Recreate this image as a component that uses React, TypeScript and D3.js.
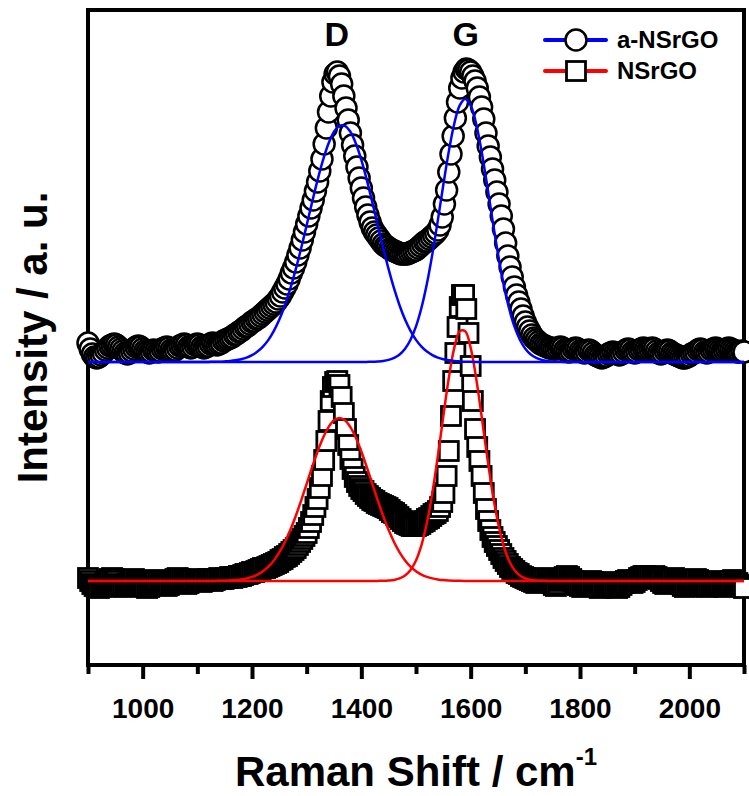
import React, { useRef, useEffect } from 'react';
import * as d3 from 'd3';

const width = 749;
const height = 796;
const margin = { top: 10, right: 5, bottom: 131, left: 88 };
const font = "'Liberation Sans', Arial, sans-serif";

// measured spectra, one value every 4 cm-1 starting at 900 cm-1
const ramanStart = 900;
const ramanStep = 4;

// a-NSrGO intensity (a.u.), above its own baseline
const aNSrGO = [
  19, 13, 8, 5, 4, 5, 7, 9, 12, 14, 16, 17, 18, 17, 15, 13, 11, 9, 8, 9, 11, 13, 15, 16, 15,
  13, 11, 10, 9, 10, 12, 11, 10, 11, 13, 14, 15, 14, 12, 11, 12, 14, 16, 17, 18, 17, 15, 14, 15, 17,
  18, 17, 15, 14, 15, 16, 18, 19, 18, 17, 18, 19, 21, 22, 23, 24, 25, 27, 28, 30, 31, 33, 35, 36, 38,
  40, 41, 43, 44, 46, 48, 50, 52, 54, 56, 58, 60, 63, 66, 70, 74, 78, 83, 89, 94, 100, 107, 114, 122, 130,
  138, 146, 154, 162, 171, 180, 191, 203, 218, 234, 250, 266, 280, 288, 290, 286, 278, 266, 254, 242, 229, 217, 206, 195, 184,
  174, 164, 155, 147, 140, 134, 130, 127, 124, 121, 118, 116, 115, 113, 112, 111, 110, 109, 108, 108, 108, 108, 109, 110, 111,
  112, 114, 116, 118, 120, 121, 123, 125, 127, 129, 132, 137, 145, 158, 172, 190, 208, 226, 244, 260, 274, 284, 290, 293, 292,
  290, 286, 281, 274, 265, 255, 243, 229, 216, 205, 193, 182, 170, 158, 146, 133, 119, 106, 95, 85, 75, 67, 60, 53, 46,
  40, 35, 31, 27, 24, 22, 20, 18, 17, 16, 15, 14, 14, 13, 13, 14, 15, 14, 12, 11, 10, 11, 13, 14, 13,
  11, 10, 9, 10, 12, 11, 9, 7, 6, 5, 4, 5, 6, 8, 9, 10, 9, 8, 7, 8, 10, 12, 13, 12, 10,
  9, 10, 12, 13, 14, 13, 12, 13, 14, 13, 11, 9, 8, 9, 11, 12, 11, 9, 8, 7, 6, 5, 4, 4, 5,
  6, 8, 9, 10, 12, 13, 12, 10, 9, 10, 12, 13, 14, 13, 12, 11, 12, 13, 14, 13, 12, 11, 10, 10, 11, 10,
];

// NSrGO intensity (a.u.)
const NSrGO = [
  3, 0, -3, -5, -6, -7, -6, -4, -2, 0, 2, 3, 2, 0, -3, -5, -6, -5, -3, -1, 1, 2, 1, -1, -3,
  -5, -6, -7, -6, -4, -2, 0, 1, 0, -2, -4, -5, -4, -2, 0, 2, 3, 2, 0, -2, -3, -2, 0, 1, 2,
  1, 0, -1, 0, 1, 2, 1, 0, 1, 2, 3, 2, 2, 3, 3, 4, 3, 4, 4, 5, 5, 6, 7, 7, 8,
  9, 9, 10, 11, 12, 13, 13, 14, 15, 16, 17, 18, 19, 21, 22, 24, 25, 27, 29, 31, 33, 36, 39, 42, 45,
  48, 53, 59, 66, 74, 82, 93, 105, 121, 140, 160, 180, 194, 199, 200, 196, 184, 168, 152, 136, 122, 112, 104, 99, 95,
  92, 90, 87, 85, 83, 81, 80, 78, 77, 76, 75, 74, 73, 71, 69, 68, 66, 64, 62, 60, 58, 57, 56, 55, 55,
  55, 56, 57, 59, 60, 62, 63, 65, 67, 68, 70, 74, 79, 88, 105, 130, 165, 200, 228, 254, 274, 286, 286, 272, 248,
  215, 180, 152, 134, 120, 105, 88, 72, 60, 51, 44, 39, 35, 31, 27, 23, 20, 17, 14, 12, 10, 8, 7, 5, 4,
  3, 2, 1, 0, -1, -2, -1, 0, 2, 3, 2, 0, -2, -4, -5, -3, 0, 2, 4, 5, 4, 2, 0, -2, -4,
  -5, -6, -5, -3, -1, 0, -1, -3, -5, -7, -6, -4, -2, -1, -2, -4, -6, -7, -6, -4, -2, 0, 1, 0, -2,
  -1, 1, 3, 4, 5, 5, 4, 3, 4, 5, 4, 2, 0, -2, -3, -2, 0, 2, 3, 1, -1, -3, -5, -6, -5,
  -3, -1, 1, 2, 1, -1, -3, -5, -6, -5, -3, -1, 0, -1, -3, -5, -6, -4, -2, 0, 1, 0, -2, -4, -5, -7,
];

// vertical offset of the a-NSrGO trace
const aOffset = 219;

// fitted D and G bands: 900, 1100..1800 every 10, 2100 cm-1
const fitShift = [900, ...d3.range(1100, 1801, 10), 2100];
const aFitD = [0,
  0, 0, 0.1, 0.2, 0.3, 0.6, 1.0, 1.7, 2.8, 4.4,
  6.9, 10.4, 15.4, 22.1, 31.1, 42.4, 56.5, 73.3, 92.6, 114.0,
  136.8, 159.9, 182.1, 202.1, 218.5, 230.2, 236.2, 236.2, 230.2, 218.5,
  202.1, 182.1, 159.9, 136.8, 114.0, 92.6, 73.3, 56.5, 42.4, 31.1,
  22.1, 15.4, 10.4, 6.9, 4.4, 2.8, 1.7, 1.0, 0.6, 0.3,
  0.2, 0.1, 0, 0, 0, 0, 0, 0, 0, 0,
  0, 0, 0, 0, 0, 0, 0, 0, 0, 0,
  0, 0];
const aFitG = [0,
  0, 0, 0, 0, 0, 0, 0, 0, 0, 0,
  0, 0, 0, 0, 0, 0, 0, 0, 0, 0,
  0, 0, 0, 0, 0, 0, 0, 0, 0, 0,
  0, 0.1, 0.2, 0.5, 1.0, 2.1, 4.1, 7.5, 13.3, 22.3,
  35.6, 54.2, 78.4, 108.1, 141.9, 177.2, 210.6, 238.3, 256.6, 263,
  256.6, 238.3, 210.6, 177.2, 141.9, 108.1, 78.4, 54.2, 35.6, 22.3,
  13.3, 7.5, 4.1, 2.1, 1.0, 0.5, 0.2, 0.1, 0, 0,
  0, 0];
const nFitD = [0,
  0, 0, 0, 0.1, 0.2, 0.3, 0.5, 0.9, 1.6, 2.6,
  4.1, 6.4, 9.8, 14.4, 20.6, 28.7, 38.8, 50.9, 65.0, 80.6,
  97.2, 113.8, 129.5, 143.2, 153.9, 160.7, 163, 160.7, 153.9, 143.2,
  129.5, 113.8, 97.2, 80.6, 65.0, 50.9, 38.8, 28.7, 20.6, 14.4,
  9.8, 6.4, 4.1, 2.6, 1.6, 0.9, 0.5, 0.3, 0.2, 0.1,
  0, 0, 0, 0, 0, 0, 0, 0, 0, 0,
  0, 0, 0, 0, 0, 0, 0, 0, 0, 0,
  0, 0];
const nFitG = [0,
  0, 0, 0, 0, 0, 0, 0, 0, 0, 0,
  0, 0, 0, 0, 0, 0, 0, 0, 0, 0,
  0, 0, 0, 0, 0, 0, 0, 0, 0, 0,
  0, 0, 0, 0.1, 0.2, 0.5, 1.1, 2.6, 5.5, 11.1,
  20.6, 35.9, 58.4, 88.4, 125.0, 164.9, 203.0, 233.1, 249.8, 249.8,
  233.1, 203.0, 164.9, 125.0, 88.4, 58.4, 35.9, 20.6, 11.1, 5.5,
  2.6, 1.1, 0.5, 0.2, 0.1, 0, 0, 0, 0, 0,
  0, 0];

const xTicks = [1000, 1200, 1400, 1600, 1800, 2000];
const xMinorTicks = [900, 1100, 1300, 1500, 1700, 1900, 2100];
const bandLabels = [
  { text: 'D', shift: 1355 },
  { text: 'G', shift: 1591 },
];
const legendItems = [
  { label: 'a-NSrGO', color: '#0000ff', marker: 'circle' },
  { label: 'NSrGO', color: '#ff0000', marker: 'square' },
];

function App() {
  const chartRef = useRef<SVGSVGElement>(null);

  useEffect(() => {
    const svg = d3.select(chartRef.current);
    svg.selectAll('*').remove();

    const x = d3.scaleLinear().domain([900, 2100]).range([margin.left, width - margin.right]);
    const y = d3.scaleLinear().domain([-84, 571]).range([height - margin.bottom, margin.top]);
    const shiftAt = (i: number) => ramanStart + i * ramanStep;
    const bottom = height - margin.bottom;

    // frame
    svg.append('rect')
      .attr('x', margin.left)
      .attr('y', margin.top)
      .attr('width', width - margin.right - margin.left)
      .attr('height', bottom - margin.top)
      .attr('fill', 'none')
      .attr('stroke', '#000')
      .attr('stroke-width', 4);

    // x axis ticks
    const major = svg.append('g')
      .attr('transform', `translate(0, ${bottom})`)
      .call(d3.axisBottom(x).tickValues(xTicks).tickSize(14).tickSizeOuter(0).tickPadding(19).tickFormat(d3.format('d')));
    major.select('.domain').remove();
    major.selectAll('line').attr('stroke', '#000').attr('stroke-width', 4);
    major.selectAll('text')
      .attr('fill', '#000')
      .style('font-family', font)
      .style('font-weight', 'bold')
      .style('font-size', '28px');

    const minor = svg.append('g')
      .attr('transform', `translate(0, ${bottom})`)
      .call(d3.axisBottom(x).tickValues(xMinorTicks).tickSize(9).tickSizeOuter(0).tickFormat(() => ''));
    minor.select('.domain').remove();
    minor.selectAll('line').attr('stroke', '#000').attr('stroke-width', 4);

    // axis titles
    const xTitle = svg.append('text')
      .attr('x', (margin.left + width - margin.right) / 2)
      .attr('y', 786)
      .attr('text-anchor', 'middle')
      .style('font-family', font)
      .style('font-weight', 'bold')
      .style('font-size', '42px');
    xTitle.append('tspan').text('Raman Shift / cm');
    xTitle.append('tspan').attr('dy', -21).style('font-size', '24px').text('-1');

    svg.append('text')
      .attr('transform', `translate(47, ${(margin.top + bottom) / 2}) rotate(-90)`)
      .attr('text-anchor', 'middle')
      .style('font-family', font)
      .style('font-weight', 'bold')
      .style('font-size', '42px')
      .text('Intensity / a. u.');

    // NSrGO squares
    svg.append('g')
      .selectAll('rect')
      .data(NSrGO)
      .join('rect')
      .attr('x', (d, i) => x(shiftAt(i)) - 9.5)
      .attr('y', (d) => y(d) - 9.5)
      .attr('width', 19)
      .attr('height', 19)
      .attr('fill', '#fff')
      .attr('stroke', '#000')
      .attr('stroke-width', 2.8);

    // a-NSrGO circles
    svg.append('g')
      .selectAll('circle')
      .data(aNSrGO)
      .join('circle')
      .attr('cx', (d, i) => x(shiftAt(i)))
      .attr('cy', (d) => y(d + aOffset))
      .attr('r', 10.5)
      .attr('fill', '#fff')
      .attr('stroke', '#000')
      .attr('stroke-width', 2.5);

    // fitted bands
    const fitLine = (offset: number) => d3.line<number>()
      .x((d, i) => x(fitShift[i]))
      .y((d) => y(d + offset))
      .curve(d3.curveCatmullRom);

    [nFitD, nFitG].forEach((fit) => {
      svg.append('path')
        .datum(fit)
        .attr('d', fitLine(0))
        .attr('fill', 'none')
        .attr('stroke', '#ff0000')
        .attr('stroke-width', 2.5);
    });
    [aFitD, aFitG].forEach((fit) => {
      svg.append('path')
        .datum(fit)
        .attr('d', fitLine(aOffset))
        .attr('fill', 'none')
        .attr('stroke', '#0000ff')
        .attr('stroke-width', 2.5);
    });

    // band labels
    bandLabels.forEach((b) => {
      svg.append('text')
        .attr('x', x(b.shift))
        .attr('y', margin.top + 36)
        .attr('text-anchor', 'middle')
        .style('font-family', font)
        .style('font-weight', 'bold')
        .style('font-size', '34px')
        .text(b.text);
    });

    // legend
    const legend = svg.append('g').attr('transform', 'translate(545, 40)');
    legendItems.forEach((item, i) => {
      const row = legend.append('g').attr('transform', `translate(0, ${i * 31})`);
      row.append('line')
        .attr('x1', 0).attr('x2', 61)
        .attr('stroke', item.color)
        .attr('stroke-width', 4)
        .attr('stroke-linecap', 'round');
      if (item.marker === 'circle') {
        row.append('circle')
          .attr('cx', 31).attr('r', 10.5)
          .attr('fill', '#fff').attr('stroke', '#000').attr('stroke-width', 2.5);
      } else {
        row.append('rect')
          .attr('x', 21.5).attr('y', -9.5).attr('width', 19).attr('height', 19)
          .attr('fill', '#fff').attr('stroke', '#000').attr('stroke-width', 2.8);
      }
      row.append('text')
        .attr('x', 72)
        .attr('y', 7.5)
        .style('font-family', font)
        .style('font-weight', 'bold')
        .style('font-size', '24px')
        .text(item.label);
    });
  }, []);

  return (
    <svg
      ref={chartRef}
      width={width}
      height={height}
      style={{ position: 'absolute', left: 0, top: 0, background: '#fff' }}
    ></svg>
  );
}

export default App;
